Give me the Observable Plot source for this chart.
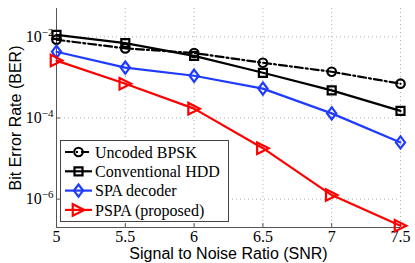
<!DOCTYPE html>
<html>
<head>
<meta charset="utf-8">
<script src="https://cdn.jsdelivr.net/npm/d3@7"></script>
<script src="https://cdn.jsdelivr.net/npm/@observablehq/plot@0.6"></script>
<style>
  html, body { margin: 0; padding: 0; background: #fff; }
  #wrap { position: relative; width: 415px; height: 263px; overflow: hidden; }
  #legend { position: absolute; left: 60px; top: 140px; }
</style>
</head>
<body>
<div id="wrap"></div>
<script>
// ---- data ----
const snr = [5, 5.5, 6, 6.5, 7, 7.5];
const berUncoded = [8.5e-3, 5.2e-3, 4.0e-3, 2.3e-3, 1.38e-3, 7.0e-4];
const berHDD     = [1.12e-2, 7.0e-3, 3.4e-3, 1.3e-3, 4.8e-4, 1.5e-4];
const berSPA     = [4.3e-3, 1.75e-3, 1.1e-3, 5.3e-4, 1.3e-4, 2.5e-5];
const berPSPA    = [2.6e-3, 7.0e-4, 1.7e-4, 1.8e-5, 1.26e-6, 2.2e-7];
const seriesNames = ["Uncoded BPSK", "Conventional HDD", "SPA decoder", "PSPA (proposed)"];
const yTicks = [1e-2, 1e-4, 1e-6];

// ---- custom marker symbols (MATLAB-like) ----
const rOf = s => Math.sqrt(s / Math.PI);
const symCircle = {draw(c, s) { const r = rOf(s) * 0.85; c.moveTo(r, 0); c.arc(0, 0, r, 0, 2 * Math.PI); }};
const symSquare = {draw(c, s) { const h = rOf(s) * 0.8; c.moveTo(-h, -h); c.lineTo(h, -h); c.lineTo(h, h); c.lineTo(-h, h); c.closePath(); }};
const symDiamond = {draw(c, s) { const r = rOf(s), w = r * 0.92, h = r * 1.22; c.moveTo(0, -h); c.lineTo(w, 0); c.lineTo(0, h); c.lineTo(-w, 0); c.closePath(); }};
const symTriRight = {draw(c, s) { const r = rOf(s) * 1.15; c.moveTo(r, 0); c.lineTo(-r, -r); c.lineTo(-r, r); c.closePath(); }};

const styles = [
  {color: "#000000", symbol: symCircle, dash: "8,3,2,3"},
  {color: "#000000", symbol: symSquare, dash: null},
  {color: "#1f3bff", symbol: symDiamond, dash: null},
  {color: "#ff0000", symbol: symTriRight, dash: null}
];
const allValues = [berUncoded, berHDD, berSPA, berPSPA];

const serif = "Liberation Serif, Times New Roman, serif";
const sans = "Liberation Sans, Arial, sans-serif";

const marks = [
  Plot.gridX({ticks: snr, stroke: "#b0b0b0", strokeOpacity: 1, strokeDasharray: "1,3"}),
  Plot.gridY({ticks: yTicks, stroke: "#b0b0b0", strokeOpacity: 1, strokeDasharray: "1,3"}),
  Plot.ruleX([snr[0]], {stroke: "#555"}),
  Plot.ruleY([2e-7], {stroke: "#555"}),
  Plot.axisX({ticks: snr, tickSize: -4, tickPadding: 7, tickFormat: d => String(d), fontSize: 16, fontFamily: serif, label: null, stroke: "#555", color: "#000"}),
  Plot.axisY({ticks: yTicks, tickSize: -4, tickPadding: 7, tickFormat: d => "10|" + Math.round(Math.log10(d)), fontSize: 16, fontFamily: serif, label: null, stroke: "#555", color: "#000"}),
  Plot.text(["Signal to Noise Ratio (SNR)"], {text: d => d, frameAnchor: "bottom", dy: 26, textAnchor: "middle", lineAnchor: "middle", fontSize: 16, fontFamily: sans, fill: "#000"}),
  Plot.text(["Bit Error Rate (BER)"], {text: d => d, frameAnchor: "left", dx: -41, rotate: -90, textAnchor: "middle", lineAnchor: "middle", fontSize: 16, fontFamily: sans, fill: "#000"})
];

seriesNames.forEach((name, k) => {
  const rows = snr.map((x, i) => ({x, y: allValues[k][i], name}));
  const st = styles[k];
  marks.push(Plot.line(rows, {x: "x", y: "y", stroke: st.color, strokeWidth: 2.2, strokeDasharray: st.dash || undefined}));
  marks.push(Plot.dot(rows, {x: "x", y: "y", r: 5, symbol: st.symbol, stroke: st.color, strokeWidth: 2.2, fill: "none"}));
});

const chart = Plot.plot({
  width: 415,
  height: 263,
  marginLeft: 56,
  marginRight: 15,
  marginTop: 8,
  marginBottom: 36,
  x: {domain: [5, 7.5]},
  y: {type: "log", domain: [2e-7, 5e-2]},
  style: {background: "#fff", overflow: "visible"},
  marks
});

// superscript exponents on y tick labels
d3.select(chart).selectAll('g[aria-label="y-axis tick label"] text').each(function () {
  const t = d3.select(this);
  const raw = t.text();
  if (!raw.includes("|")) return;
  const [base, exp] = raw.split("|");
  t.text(null);
  t.append("tspan").text(base);
  t.append("tspan").attr("dy", "-0.55em").attr("font-size", 11).text(exp.replace("-", "\u2212"));
});

const wrap = document.getElementById("wrap");
wrap.appendChild(chart);

// ---- legend ----
const lg = d3.create("svg").attr("id", "legend").attr("width", 169).attr("height", 82);
lg.append("rect").attr("x", 0.5).attr("y", 0.5).attr("width", 168).attr("height", 81)
  .attr("fill", "#fff").attr("stroke", "#444").attr("stroke-width", 1);
seriesNames.forEach((name, k) => {
  const st = styles[k];
  const cy = 12 + k * 19.3;
  const g = lg.append("g");
  g.append("line").attr("x1", 5).attr("x2", 32).attr("y1", cy).attr("y2", cy)
    .attr("stroke", st.color).attr("stroke-width", 2.2).attr("stroke-dasharray", st.dash);
  g.append("path").attr("d", d3.symbol(st.symbol, Math.PI * 25)()).attr("transform", `translate(18.5,${cy})`)
    .attr("fill", "none").attr("stroke", st.color).attr("stroke-width", 2.2);
  g.append("text").attr("x", 35).attr("y", cy).attr("dy", "0.35em")
    .attr("font-family", serif).attr("font-size", 16).attr("fill", "#000").text(name);
});
wrap.appendChild(lg.node());
</script>
</body>
</html>
